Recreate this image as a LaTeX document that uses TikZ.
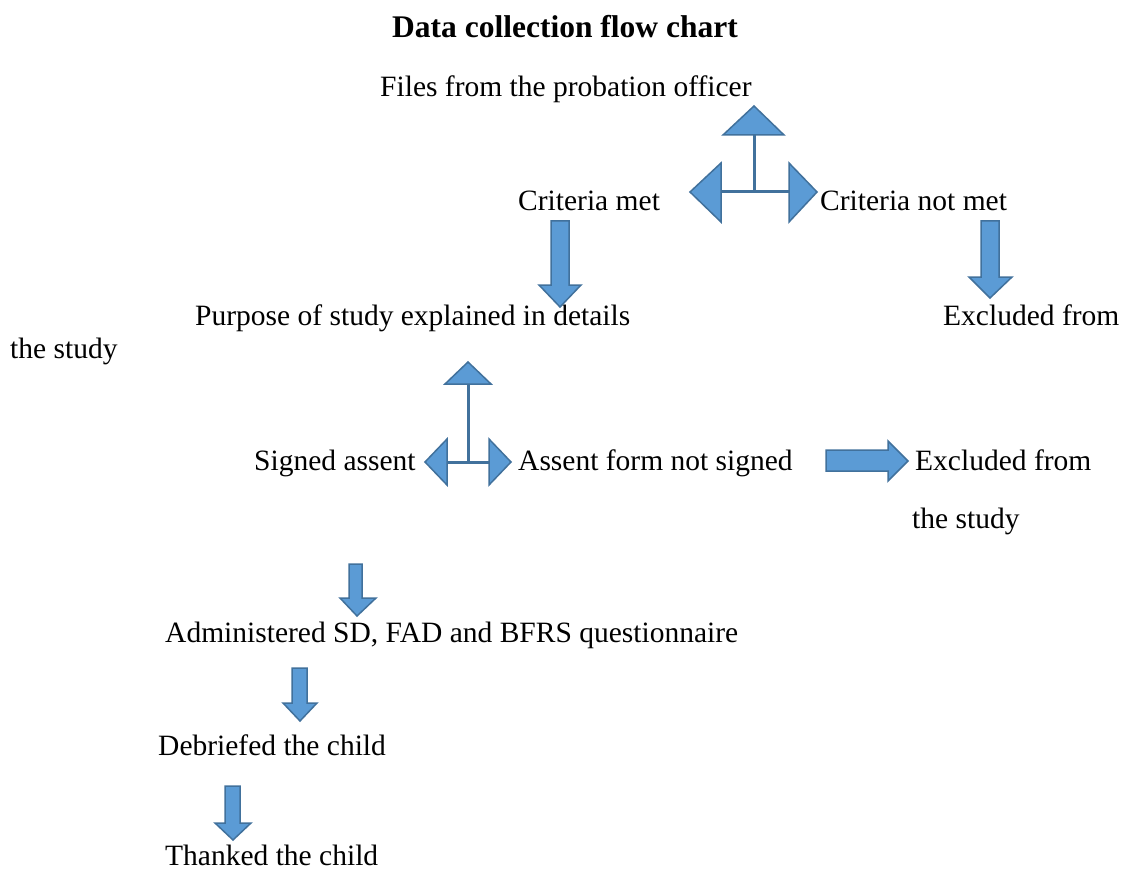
\documentclass[tikz,border=0pt]{standalone}
\usepackage{fontspec}
\setmainfont{Liberation Serif}
\definecolor{afill}{HTML}{5B9BD5}
\definecolor{aline}{HTML}{41719C}
\begin{document}
\begin{tikzpicture}[x=1pt,y=-1pt,
  lbl/.style={anchor=base west,inner sep=0pt,font=\fontsize{29.5}{34}\selectfont},
  blk/.style={fill=afill,draw=aline,line width=1.5pt,line join=miter},
  stem/.style={draw=aline,line width=3pt}]
\useasboundingbox[fill=white] (0,0) rectangle (1130,869);
% title
\node[anchor=base,inner sep=0pt,font=\fontsize{31.5}{36}\selectfont\bfseries] (title) at (565,38) {Data collection flow chart};
% texts
\node[lbl] (files) at (380,97) {Files from the probation officer};
\node[lbl] (cmet) at (518,211) {Criteria met};
\node[lbl] (cnot) at (820,211) {Criteria not met};
\node[lbl] (purpose) at (195,325) {Purpose of study explained in details};
\node[lbl] (excl1) at (943,325) {Excluded from};
\node[lbl] (study1) at (10,358) {the study};
\node[lbl] (signed) at (254,470) {Signed assent};
\node[lbl] (notsigned) at (518,470) {Assent form not signed};
\node[lbl] (excl2) at (915,470) {Excluded from};
\node[lbl] (study2) at (912,528) {the study};
\node[lbl] (admin) at (165,642) {Administered SD, FAD and BFRS questionnaire};
\node[lbl] (debrief) at (158,755) {Debriefed the child};
\node[lbl] (thank) at (165,865) {Thanked the child};
% top cluster
\coordinate (c1) at (754,192);
\draw[stem] (754,135) -- (c1);
\draw[stem] (721,192) -- (789,192);
\path[blk] (754,106) -- (784,135) -- (723,135) -- cycle;
\path[blk] (690,192) -- (721,163) -- (721,222) -- cycle;
\path[blk] (817,192) -- (789,163) -- (789,222) -- cycle;
% down arrows under criteria
\path[blk] (551,221) -- (569,221) -- (569,285) -- (581,285) -- (560,307) -- (539,285) -- (551,285) -- cycle;
\path[blk] (981,221) -- (999,221) -- (999,277) -- (1012,277) -- (990,298) -- (969,277) -- (981,277) -- cycle;
% second cluster
\coordinate (c2) at (468,462);
\draw[stem] (468,384) -- (c2);
\draw[stem] (447,462) -- (489,462);
\path[blk] (468,362) -- (491,384) -- (445,384) -- cycle;
\path[blk] (425,462) -- (447,439) -- (447,485) -- cycle;
\path[blk] (511,462) -- (489,439) -- (489,485) -- cycle;
% right arrow
\path[blk] (826,450) -- (888,450) -- (888,441) -- (908,461) -- (888,481) -- (888,471) -- (826,471) -- cycle;
% lower down arrows
\path[blk] (349,564) -- (362,564) -- (362,598) -- (376,598) -- (357,616) -- (340,598) -- (349,598) -- cycle;
\path[blk] (292,668) -- (307,668) -- (307,703) -- (317,703) -- (300,721) -- (283,703) -- (292,703) -- cycle;
\path[blk] (225,786) -- (240,786) -- (240,823) -- (251,823) -- (233,840) -- (215,823) -- (225,823) -- cycle;
\end{tikzpicture}
\end{document}
